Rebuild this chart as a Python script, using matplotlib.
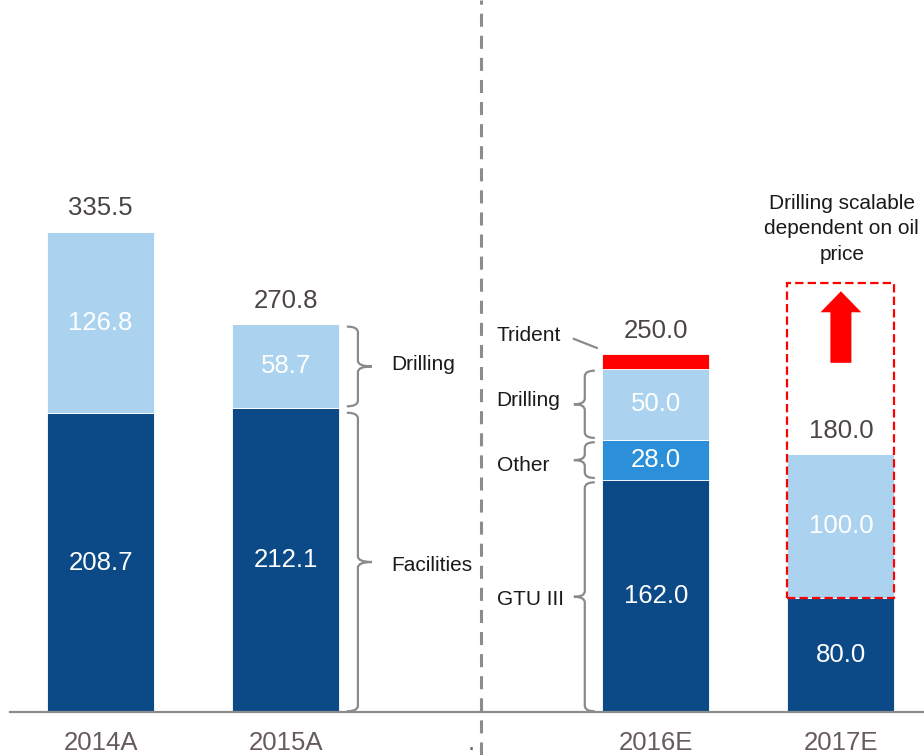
import numpy as np
import matplotlib
matplotlib.use("Agg")
import matplotlib.pyplot as plt
from matplotlib.path import Path
from matplotlib.patches import PathPatch, Rectangle, FancyArrow

plt.rcParams['font.family'] = ['Liberation Sans', 'DejaVu Sans']
plt.rcParams['lines.scale_dashes'] = False

# data (2016E has GTU III / Other / Drilling / Trident, others base + drilling)
years = ['2014A', '2015A', '2016E', '2017E']
tick_labels = ['2014A', '2015A', '.', '2016E', '2017E']
xpos = [0, 1, 3, 4]
base = [208.7, 212.1, 162.0, 80.0]
other = [0.0, 0.0, 28.0, 0.0]
drilling = [126.8, 58.7, 50.0, 100.0]
trident = [0.0, 0.0, 10.0, 0.0]
totals = [335.5, 270.8, 250.0, 180.0]

c_dark = '#0b4a87'
c_mid = '#2b8fd9'
c_light = '#abd3ef'
c_red = '#ff0000'
c_brace = '#8a8a8a'
c_txt = '#1a1a1a'

fig = plt.figure(figsize=(9.24, 7.55), dpi=100)
ax = fig.add_axes([10 / 924, 43 / 755, 914 / 924, 712 / 755])

w = 0.578
base = np.array(base)
other = np.array(other)
drilling = np.array(drilling)
trident = np.array(trident)

ax.bar(xpos, base, w, color=c_dark, edgecolor='white', linewidth=0.6)
ax.bar(xpos, other, w, bottom=base, color=c_mid, edgecolor='white', linewidth=0.6)
ax.bar(xpos, drilling, w, bottom=base + other, color=c_light, edgecolor='white', linewidth=0.6)
ax.bar(xpos, trident, w, bottom=base + other + drilling, color=c_red, edgecolor='white', linewidth=0.6)

# values inside segments
for i, x in enumerate(xpos):
    ax.text(x, base[i] / 2, f'{base[i]:.1f}', ha='center', va='center',
            color='white', fontsize=18.5)
    if other[i] > 0:
        ax.text(x, base[i] + other[i] / 2, f'{other[i]:.1f}', ha='center',
                va='center', color='white', fontsize=18.5)
    ax.text(x, base[i] + other[i] + drilling[i] / 2, f'{drilling[i]:.1f}',
            ha='center', va='center', color='white', fontsize=18.5)
    ax.annotate(f'{totals[i]:.1f}', (x, totals[i]), xytext=(0, 12),
                textcoords='offset points', ha='center', va='baseline',
                color='#4a4446', fontsize=18.5)


def brace(x0, x1, x2, y0, y1, r=4.0):
    # curly brace: ends at x0, spine at x1, tip at x2
    ym = (y0 + y1) / 2
    verts = [(x0, y1), (x1, y1), (x1, y1 - r), (x1, ym + r),
             (x1, ym), (x2, ym), (x1, ym), (x1, ym - r),
             (x1, y0 + r), (x1, y0), (x0, y0)]
    codes = [Path.MOVETO, Path.CURVE3, Path.CURVE3, Path.LINETO,
             Path.CURVE3, Path.CURVE3, Path.CURVE3, Path.CURVE3,
             Path.LINETO, Path.CURVE3, Path.CURVE3]
    ax.add_patch(PathPatch(Path(verts, codes), facecolor='none',
                           edgecolor=c_brace, lw=1.6, clip_on=False))


g = 1.5
# 2015A braces (right side)
b = base[1]
d = drilling[1]
brace(1.33, 1.39, 1.465, b + g, b + d - g)
brace(1.33, 1.39, 1.465, 0.5, b - g * 2)
ax.text(1.568, 242.8, 'Drilling', fontsize=15, color=c_txt, va='center')
ax.text(1.568, 102.4, 'Facilities', fontsize=15, color=c_txt, va='center')

# 2016E braces (left side)
b = base[2]
o = other[2]
d = drilling[2]
brace(2.67, 2.616, 2.557, 0.5, b - g)
brace(2.67, 2.616, 2.557, b + g, b + o - g)
brace(2.67, 2.616, 2.557, b + o + g, b + o + d - g)
ax.text(2.14, 78.6, 'GTU III', fontsize=15, color=c_txt, va='center')
ax.text(2.14, 172.3, 'Other', fontsize=15, color=c_txt, va='center')
ax.text(2.14, 217.7, 'Drilling', fontsize=15, color=c_txt, va='center')
ax.text(2.14, 263.2, 'Trident', fontsize=15, color=c_txt, va='center')
ax.plot([2.557, 2.681], [260.7, 254.4], color=c_brace, lw=1.6)

# 2017E scalable drilling box + arrow
ax.add_patch(Rectangle((4 - w / 2, base[3]), w, 300 - base[3], fill=False,
                       edgecolor=c_red, lw=1.6, linestyle=(0, (6, 3))))
ax.add_patch(FancyArrow(4, 244, 0, 50, width=0.1135, head_width=0.22,
                        head_length=14.7, length_includes_head=True,
                        color=c_red, lw=0))
ax.text(4.005, 337.5, 'Drilling scalable\ndependent on oil\nprice', ha='center',
        va='center', fontsize=15, color=c_txt, linespacing=1.42)

# separator between actuals and estimates
ax.axvline(2.054, ymin=-0.06, ymax=1.0, color='#8c8c8c', lw=2.2,
           dashes=(9.4, 6.5), clip_on=False)

ax.set_xlim(-0.49, 4.449)
ax.set_ylim(0, 497.5)
ax.set_xticks(range(5))
ax.set_xticklabels(tick_labels, fontsize=18.5, color='#665b5d')
ax.tick_params(axis='x', length=0, pad=14)
ax.set_yticks([])
for s in ['top', 'right', 'left']:
    ax.spines[s].set_visible(False)
ax.spines['bottom'].set_color('#8c8c8c')
ax.spines['bottom'].set_linewidth(1.6)

fig.savefig('out.png', dpi=100)
